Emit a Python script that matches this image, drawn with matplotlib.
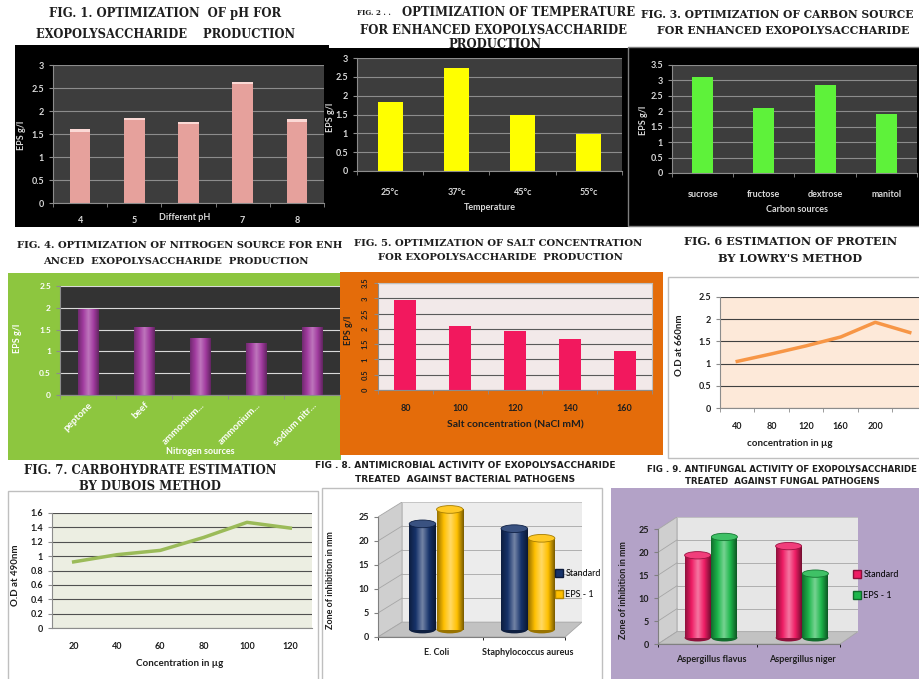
import matplotlib.pyplot as plt
import numpy as np
from matplotlib.patches import Rectangle, Polygon, Ellipse, Patch
from matplotlib.colors import LinearSegmentedColormap, to_rgb

W, H = 920, 679

# Fig 1: pH (the "6" label sits under the axis title)
ph_labels = ['4', '5', '', '7', '8']
ph_eps = [1.60, 1.85, 1.77, 2.63, 1.82]
# Fig 2: temperature
temp_labels = ['25°c', '37°c', '45°c', '55°c']
temp_eps = [1.83, 2.74, 1.50, 0.98]
# Fig 3: carbon source
carbon_labels = ['sucrose', 'fructose', 'dextrose', 'manitol']
carbon_eps = [3.10, 2.10, 2.85, 1.91]
# Fig 4: nitrogen source
nitrogen_labels = ['peptone', 'beef', 'ammonium...', 'ammonium...', 'sodium nitr...']
nitrogen_eps = [1.97, 1.56, 1.30, 1.20, 1.56]
# Fig 5: salt concentration
salt_labels = ['80', '100', '120', '140', '160']
salt_eps = [2.93, 2.10, 1.92, 1.66, 1.29]
# Fig 6: protein (Lowry)
protein_conc = ['40', '80', '120', '160', '200', '']
protein_od = [1.05, 1.22, 1.40, 1.60, 1.93, 1.70]
# Fig 7: carbohydrate (Dubois)
carb_conc = ['20', '40', '60', '80', '100', '120']
carb_od = [0.92, 1.02, 1.08, 1.26, 1.47, 1.39]
# Fig 8: antibacterial
bact_labels = ['E. Coli', 'Staphylococcus aureus']
bact_standard = [22, 21]
bact_eps = [25, 19]
# Fig 9: antifungal
fungi_labels = ['Aspergillus flavus', 'Aspergillus niger']
fungi_standard = [18, 20]
fungi_eps = [22, 14]

plt.rcParams['font.family'] = ['Lato', 'DejaVu Sans']
fig = plt.figure(figsize=(W / 100, H / 100), dpi=100)
fig.patch.set_facecolor('white')


def frect(x0, y0, x1, y1):
    return [x0 / W, 1 - y1 / H, (x1 - x0) / W, (y1 - y0) / H]


def ftext(x, y, s, **kw):
    kw.setdefault('ha', 'center')
    kw.setdefault('va', 'center')
    return fig.text(x / W, 1 - y / H, s, **kw)


def box(x0, y0, x1, y1, fc, ec='none', lw=1.0):
    fig.add_artist(Rectangle((x0 / W, 1 - y1 / H), (x1 - x0) / W, (y1 - y0) / H,
                             transform=fig.transFigure, facecolor=fc,
                             edgecolor=ec, lw=lw, zorder=-1))


def title(x, y, s, size, **kw):
    kw.setdefault('family', 'DejaVu Serif')
    ftext(x, y, s, fontsize=size, fontweight='bold', color='#1e1e1e', **kw)


def small_title(x, y, s, size):
    ftext(x, y, s, fontsize=size, fontweight='bold', color='#1e1e1e', family='DejaVu Sans')


def mix(c, other, t):
    c, o = np.array(to_rgb(c)), np.array(to_rgb(other))
    return tuple(c * (1 - t) + o * t)


def style(ax, face, grid_c, tick_c, spine_c, size=6.5):
    ax.set_facecolor(face)
    ax.grid(axis='y', color=grid_c, lw=0.8)
    ax.set_axisbelow(True)
    for s in ['top', 'right']:
        ax.spines[s].set_visible(False)
    for s in ['left', 'bottom']:
        ax.spines[s].set_color(spine_c)
        ax.spines[s].set_linewidth(0.8)
    ax.tick_params(colors=spine_c, labelcolor=tick_c, labelsize=size,
                   length=3, width=0.8)


def cat_axis(ax, labels, pad, **kw):
    n = len(labels)
    ax.set_xticks(np.arange(n))
    ax.set_xticklabels(labels, **kw)
    ax.set_xticks(np.arange(n + 1) - 0.5, minor=True)
    ax.tick_params(axis='x', which='major', length=0, pad=pad)
    ax.tick_params(axis='x', which='minor', length=3, color='#8c8c8c')
    ax.set_xlim(-0.5, n - 0.5)


def bold_ticks(ax):
    for t in ax.get_xticklabels() + ax.get_yticklabels():
        t.set_fontweight('bold')


def shade(ax, bars, color, strength=0.35, z=2.2):
    cm = LinearSegmentedColormap.from_list(
        'cyl', [mix(color, 'black', strength), color, mix(color, 'white', strength),
                color, mix(color, 'black', strength * 1.3)])
    grad = np.linspace(0, 1, 64)[None, :]
    for b in bars:
        im = ax.imshow(grad, cmap=cm, aspect='auto', zorder=z,
                       extent=(b.get_x(), b.get_x() + b.get_width(),
                               b.get_y(), b.get_y() + b.get_height()))
        im.set_clip_path(b)


# ---------------- row 1 ----------------
ftext(357, 13, 'FIG. 2 . .', fontsize=5, fontweight='bold', color='#1e1e1e',
      family='DejaVu Serif', ha='left')
ftext(495, 45, 'PRODUCTION', fontsize=8.4, fontweight='bold', color='#1e1e1e',
      family='DejaVu Serif', zorder=-2)
box(15, 45, 329, 227, 'black')
box(328, 48, 628, 227, 'black')
box(628, 47, 920, 226, 'black', ec='#7f7f7f')

# Fig 1
ax1 = fig.add_axes(frect(53, 65, 324, 203))
style(ax1, '#3d3d3d', '#8c8c8c', '#d9d9d9', '#8c8c8c')
ax1.bar(np.arange(len(ph_eps)), ph_eps, 0.38, color='#e6a19c', zorder=2)
ax1.bar(np.arange(len(ph_eps)), [0.05] * len(ph_eps), 0.38,
        bottom=np.array(ph_eps) - 0.05, color='#fbd9d5', zorder=3)
ax1.set_ylim(0, 3)
ax1.set_yticks(np.arange(0, 3.01, 0.5))
ax1.set_yticklabels(['0', '0.5', '1', '1.5', '2', '2.5', '3'])
cat_axis(ax1, ph_labels, 9)
bold_ticks(ax1)
ftext(185, 218, 'Different pH', fontsize=6.5, fontweight='bold', color='#d9d9d9')
ftext(22, 135, 'EPS g/l', fontsize=6.5, fontweight='bold', color='#d9d9d9', rotation=90)
title(165, 14, 'FIG. 1. OPTIMIZATION  OF pH FOR', 8.4)
title(166, 35, 'EXOPOLYSACCHARIDE    PRODUCTION', 8.3)

# Fig 2
ax2 = fig.add_axes(frect(357, 58, 622, 171))
style(ax2, '#3d3d3d', '#8c8c8c', '#d9d9d9', '#8c8c8c')
ax2.bar(np.arange(len(temp_eps)), temp_eps, 0.38, color='#ffff00', zorder=2)
ax2.set_ylim(0, 3)
ax2.set_yticks(np.arange(0, 3.01, 0.5))
ax2.set_yticklabels(['0', '0.5', '1', '1.5', '2', '2.5', '3'])
cat_axis(ax2, temp_labels, 12)
bold_ticks(ax2)
ftext(490, 208, 'Temperature', fontsize=6.5, fontweight='bold', color='#d9d9d9')
ftext(331, 117, 'EPS g/l', fontsize=6.5, fontweight='bold', color='#d9d9d9', rotation=90)
title(402, 13, 'OPTIMIZATION OF TEMPERATURE', 8.4, ha='left')
title(494, 30, 'FOR ENHANCED EXOPOLYSACCHARIDE', 8.4)

# Fig 3
ax3 = fig.add_axes(frect(672, 65, 917, 173))
style(ax3, '#3d3d3d', '#8c8c8c', '#d9d9d9', '#8c8c8c')
ax3.bar(np.arange(len(carbon_eps)), carbon_eps, 0.34, color='#5ef23a', zorder=2)
ax3.set_ylim(0, 3.5)
ax3.set_yticks(np.arange(0, 3.51, 0.5))
ax3.set_yticklabels(['0', '0.5', '1', '1.5', '2', '2.5', '3', '3.5'])
cat_axis(ax3, carbon_labels, 12)
bold_ticks(ax3)
ftext(797, 210, 'Carbon sources', fontsize=6.5, fontweight='bold', color='#d9d9d9')
ftext(644, 120, 'EPS g/l', fontsize=6.5, fontweight='bold', color='#d9d9d9', rotation=90)
title(641, 14, 'FIG. 3. OPTIMIZATION OF CARBON SOURCE', 7.7, ha='left')
title(657, 30, 'FOR ENHANCED EXOPOLYSACCHARIDE', 7.9, ha='left')

# ---------------- row 2 ----------------
box(8, 273, 341, 460, '#8dc63f')
box(340, 272, 663, 455, '#e46c0a')
box(668, 277, 930, 458, 'white', ec='#bfbfbf')

# Fig 4
ax4 = fig.add_axes(frect(60, 286, 340, 395))
style(ax4, '#333333', '#d9d9d9', 'white', '#8c8c8c', size=6)
bars4 = ax4.bar(np.arange(len(nitrogen_eps)), nitrogen_eps, 0.36, color='#a23ca0', zorder=2)
shade(ax4, bars4, '#a23ca0', 0.3)
ax4.set_ylim(0, 2.5)
ax4.set_yticks(np.arange(0, 2.51, 0.5))
ax4.set_yticklabels(['0', '0.5', '1', '1.5', '2', '2.5'])
cat_axis(ax4, nitrogen_labels, 4, rotation=45, ha='right', rotation_mode='anchor')
ax4.tick_params(axis='x', labelsize=7)
bold_ticks(ax4)
ftext(200, 452, 'Nitrogen sources', fontsize=6.5, fontweight='bold', color='white')
ftext(18, 338, 'EPS g/l', fontsize=6.5, fontweight='bold', color='white', rotation=90)
title(180, 245, 'FIG. 4. OPTIMIZATION OF NITROGEN SOURCE FOR ENH', 7.2)
title(176, 262, 'ANCED  EXOPOLYSACCHARIDE  PRODUCTION', 7.2)

# Fig 5
ax5 = fig.add_axes(frect(378, 283, 652, 390))
style(ax5, '#f2e9e9', '#5a5a5a', '#1e1e1e', '#8c8c8c', size=5.5)
for s in ['top', 'right']:
    ax5.spines[s].set_visible(True)
    ax5.spines[s].set_color('#bfbfbf')
ax5.bar(np.arange(len(salt_eps)), salt_eps, 0.4, color='#f2185e', zorder=2)
ax5.set_ylim(0, 3.5)
ax5.set_yticks(np.arange(0, 3.51, 0.5))
ax5.set_yticklabels(['0', '0.5', '1', '1.5', '2', '2.5', '3', '3.5'], rotation=90, va='center')
cat_axis(ax5, salt_labels, 10)
ax5.tick_params(axis='x', labelsize=6.5)
bold_ticks(ax5)
ftext(515, 425, 'Salt concentration (NaCl mM)', fontsize=7.5, fontweight='bold', color='#1e1e1e')
ftext(349, 330, 'EPS g/l', fontsize=6.5, fontweight='bold', color='#1e1e1e', rotation=90)
title(498, 243, 'FIG. 5. OPTIMIZATION OF SALT CONCENTRATION', 7.2)
title(500, 257, 'FOR EXOPOLYSACCHARIDE  PRODUCTION', 7.2)

# Fig 6
ax6 = fig.add_axes(frect(720, 297, 927, 408))
style(ax6, '#fde9d9', '#404040', '#1e1e1e', '#8c8c8c')
ax6.plot(np.arange(len(protein_od)), protein_od, color='#f79646', lw=2.5, zorder=3)
ax6.set_ylim(0, 2.5)
ax6.set_yticks(np.arange(0, 2.51, 0.5))
ax6.set_yticklabels(['0', '0.5', '1', '1.5', '2', '2.5'])
cat_axis(ax6, protein_conc, 10)
bold_ticks(ax6)
ftext(790, 443, 'concentration in µg', fontsize=7, fontweight='bold', color='#1e1e1e')
ftext(680, 345, 'O.D at 660nm', fontsize=7, fontweight='bold', color='#1e1e1e', rotation=90)
title(791, 241, 'FIG. 6 ESTIMATION OF PROTEIN', 8.1)
title(790, 258, "BY LOWRY'S METHOD", 8.1)

# ---------------- row 3 ----------------
box(8, 491, 318, 690, 'white', ec='#bfbfbf')
box(322, 488, 602, 690, 'white', ec='#bfbfbf')
box(611, 488, 930, 690, '#b3a2c7')

# Fig 7
ax7 = fig.add_axes(frect(52, 513, 312, 628))
style(ax7, '#eceee2', '#505050', '#1e1e1e', '#8c8c8c')
ax7.plot(np.arange(len(carb_od)), carb_od, color='#9bbb59', lw=2.5, zorder=3)
ax7.set_ylim(0, 1.6)
ax7.set_yticks(np.arange(0, 1.61, 0.2))
ax7.set_yticklabels(['0', '0.2', '0.4', '0.6', '0.8', '1', '1.2', '1.4', '1.6'])
cat_axis(ax7, carb_conc, 10)
ax7.tick_params(axis='x', which='minor', length=0)
bold_ticks(ax7)
ftext(180, 664, 'Concentration in µg', fontsize=7, fontweight='bold', color='#1e1e1e')
ftext(16, 575, 'O.D at 490nm', fontsize=7, fontweight='bold', color='#1e1e1e', rotation=90)
title(150, 470, 'FIG. 7. CARBOHYDRATE ESTIMATION', 8.4)
title(150, 487, 'BY DUBOIS METHOD', 8.4)


def cylinder_chart(ax, labels, standard, eps, c_std, c_eps, dx, dy, front,
                   centers, wall):
    top = 25 + dy
    ax.set_xlim(0, 1)
    ax.add_patch(Polygon([(0, 0), (dx, dy), (dx, top), (0, 25)], fc='#cfcfcf',
                         ec='#a6a6a6', lw=0.6, zorder=0.5))
    ax.add_patch(Polygon([(dx, dy), (1, dy), (1, top), (dx, top)], fc=wall,
                         ec='#bdbdbd', lw=0.6, zorder=0.5))
    ax.add_patch(Polygon([(0, 0), (front, 0), (1, dy), (dx, dy)], fc='#c2c2c2',
                         ec='#a6a6a6', lw=0.6, zorder=0.6))
    for k in range(1, 5):
        ax.plot([dx, 1], [dy + 5 * k] * 2, color='#a6a6a6', lw=0.6, zorder=0.7)
        ax.plot([0, dx], [5 * k, dy + 5 * k], color='#a6a6a6', lw=0.6, zorder=0.7)
    w = 0.13
    base = dy / 2
    cx = np.array(centers)
    for vals, off, col in ((standard, -0.067, c_std), (eps, 0.067, c_eps)):
        bars = ax.bar(cx + off, vals, w, bottom=base, color=col, zorder=2)
        shade(ax, bars, col, 0.4, z=2.1)
        for b, v in zip(bars, vals):
            x = b.get_x() + w / 2
            ax.add_patch(Ellipse((x, base), w, 1.6, fc=mix(col, 'black', 0.4), zorder=1.9))
            ax.add_patch(Ellipse((x, base + v), w, 1.6, fc=mix(col, 'white', 0.15),
                                 ec=mix(col, 'black', 0.35), lw=0.6, zorder=2.3))
    ax.set_ylim(0, top)
    ax.set_yticks(np.arange(0, 26, 5))
    ax.set_xticks(cx)
    ax.set_xticklabels(labels)
    ax.set_xticks([0, (cx[0] + cx[1]) / 2 + 0.005, front], minor=True)
    for s in ['top', 'right']:
        ax.spines[s].set_visible(False)
    ax.spines['left'].set_bounds(0, 25)
    ax.spines['bottom'].set_bounds(0, front)
    for s in ['left', 'bottom']:
        ax.spines[s].set_color('#808080')
    ax.set_facecolor('none')
    ax.tick_params(labelsize=6.5, color='#808080', labelcolor='#1e1e1e', length=3)
    ax.tick_params(axis='x', which='major', length=0, pad=8)
    bold_ticks(ax)


# Fig 8
ax8 = fig.add_axes(frect(378, 502, 582, 637))
cylinder_chart(ax8, bact_labels, bact_standard, bact_eps, '#17336b', '#ffc000',
               0.118, 3.1, 0.917, [0.285, 0.735], '#ececec')
fig.legend(handles=[Patch(fc='#17336b', ec='#0b1a3a'), Patch(fc='#ffc000', ec='#b38600')],
           labels=['Standard', 'EPS - 1'], loc='center left',
           bbox_to_anchor=(551 / W, 1 - 584 / H), frameon=False, fontsize=6.5,
           handlelength=0.9, handleheight=0.9, handletextpad=0.3, labelspacing=1.3,
           borderaxespad=0)
ftext(331, 580, 'Zone of inhibition in mm', fontsize=6.5, fontweight='bold',
      color='#1e1e1e', rotation=90)
small_title(465, 465, 'FIG . 8. ANTIMICROBIAL ACTIVITY OF EXOPOLYSACCHARIDE', 6.5)
small_title(465, 479, 'TREATED  AGAINST BACTERIAL PATHOGENS', 6.5)

# Fig 9
ax9 = fig.add_axes(frect(658, 517, 858, 644))
cylinder_chart(ax9, fungi_labels, fungi_standard, fungi_eps, '#ee1c64', '#1db64b',
               0.095, 2.7, 0.91, [0.265, 0.72], '#e6e6e6')
fig.legend(handles=[Patch(fc='#ee1c64', ec='#8a0f3a'), Patch(fc='#1db64b', ec='#0f6a2a')],
           labels=['Standard', 'EPS - 1'], loc='center left',
           bbox_to_anchor=(849 / W, 1 - 585 / H), frameon=False, fontsize=6.5,
           handlelength=0.9, handleheight=0.9, handletextpad=0.3, labelspacing=1.3,
           borderaxespad=0)
ftext(623, 590, 'Zone of inhibition in mm', fontsize=6.5, fontweight='bold',
      color='#1e1e1e', rotation=90)
small_title(782, 469, 'FIG . 9. ANTIFUNGAL ACTIVITY OF EXOPOLYSACCHARIDE', 6.2)
small_title(782, 481, 'TREATED  AGAINST FUNGAL PATHOGENS', 6.2)

fig.savefig('out.png', dpi=100)
